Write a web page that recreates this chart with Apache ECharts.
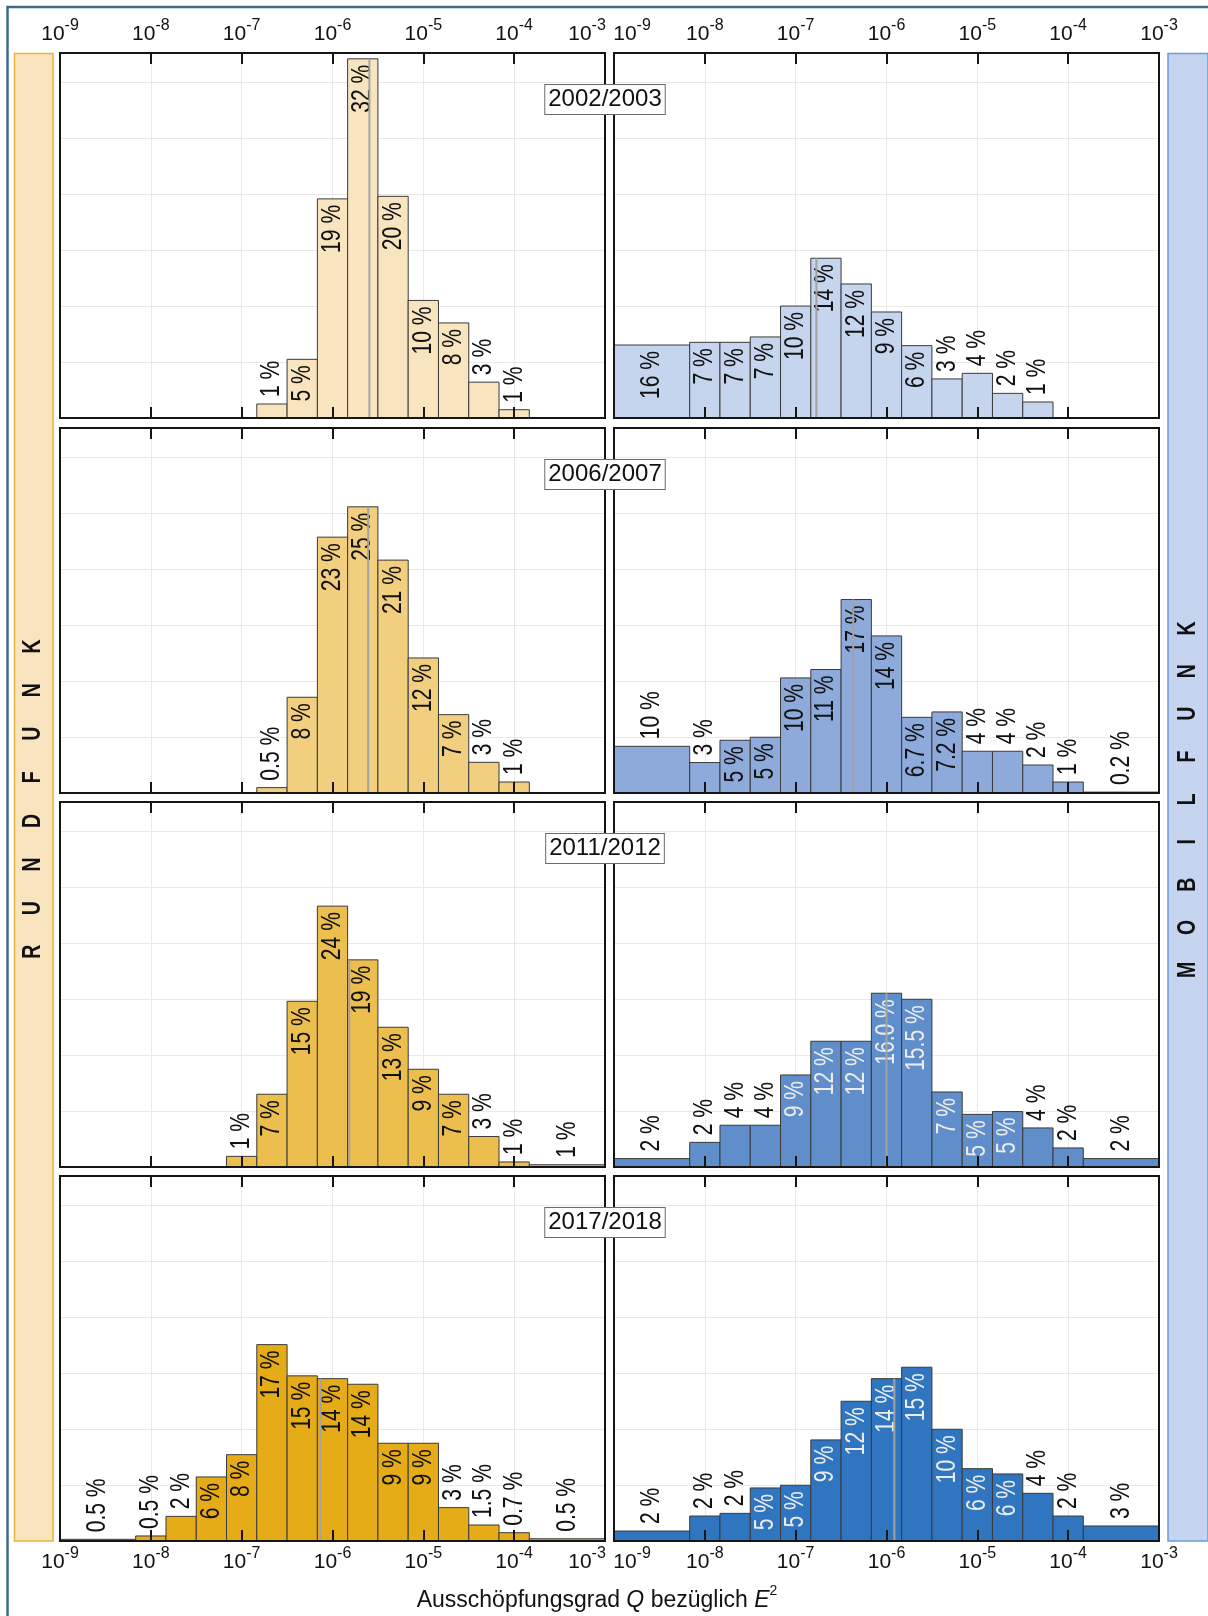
<!DOCTYPE html>
<html>
<head>
<meta charset="utf-8">
<script src="https://cdn.jsdelivr.net/npm/echarts@6/dist/echarts.min.js"></script>
<style>
html, body { margin: 0; padding: 0; background: #fff; }
#main { width: 1208px; height: 1616px; }
</style>
</head>
<body>
<div id="main"></div>
<script>
// Ausschöpfungsgrad Q - Histogramme Rundfunk / Mobilfunk, 4 Messkampagnen

var years = ['2002/2003', '2006/2007', '2011/2012', '2017/2018'];
var sideLeft = 'RUNDFUNK';
var sideRight = 'MOBILFUNK';
var axisTitle = ['Ausschöpfungsgrad ', 'Q', ' bezüglich ', 'E', '2'];

// bin edges (exponent of 10): underflow bin, 13 third-decade bins (10^-8 ... 10^-4), overflow bin
var binEdgeExp = [-9, -49/6, -47/6, -45/6, -43/6, -41/6, -39/6, -37/6, -35/6,
                  -33/6, -31/6, -29/6, -27/6, -25/6, -23/6, -3];

// bar heights in % (as read on the axis), null = no bar
var rund0203 = [null, null, null, null, null, 1.25, 5.24, 19.57, 32.08, 19.8, 10.5, 8.49, 3.2, 0.74, null];
var rund0607 = [null, null, null, null, null, 0.48, 8.55, 22.85, 25.56, 20.8, 12.06, 7.0, 2.74, 0.98, null];
var rund1112 = [null, null, null, null, 0.95, 6.5, 14.8, 23.3, 18.5, 12.48, 8.73, 6.5, 2.72, 0.45, 0.2];
var rund1718 = [0.15, 0.45, 2.2, 5.72, 7.71, 17.54, 14.75, 14.5, 14.0, 8.73, 8.73, 2.98, 1.43, 0.74, 0.2];

var mobil0203 = [6.52, 6.76, 6.76, 7.24, 10.0, 14.27, 11.97, 9.47, 6.46, 3.49, 3.99, 2.2, 1.43, null, null];
var mobil0607 = [4.17, 2.72, 4.71, 4.98, 10.28, 11.03, 17.28, 14.03, 6.76, 7.24, 3.73, 3.73, 2.5, 0.98, 0.08];
var mobil1112 = [0.75, 2.2, 3.73, 3.73, 8.22, 11.23, 11.23, 15.52, 14.98, 6.7, 4.7, 4.95, 3.49, 1.7, 0.75];
var mobil1718 = [0.89, 2.23, 2.47, 4.74, 4.98, 9.03, 12.48, 14.5, 15.52, 9.98, 6.46, 5.99, 4.26, 2.23, 1.34];

// bar labels
var rundLbl0203 = ['', '', '', '', '', '1 %', '5 %', '19 %', '32 %', '20 %', '10 %', '8 %', '3 %', '1 %', ''];
var rundLbl0607 = ['', '', '', '', '', '0.5 %', '8 %', '23 %', '25 %', '21 %', '12 %', '7 %', '3 %', '1 %', ''];
var rundLbl1112 = ['', '', '', '', '1 %', '7 %', '15 %', '24 %', '19 %', '13 %', '9 %', '7 %', '3 %', '1 %', '1 %'];
var rundLbl1718 = ['0.5 %', '0.5 %', '2 %', '6 %', '8 %', '17 %', '15 %', '14 %', '14 %', '9 %', '9 %', '3 %', '1.5 %', '0.7 %', '0.5 %'];

var mobilLbl0203 = ['16 %', '7 %', '7 %', '7 %', '10 %', '14 %', '12 %', '9 %', '6 %', '3 %', '4 %', '2 %', '1 %', '', ''];
var mobilLbl0607 = ['10 %', '3 %', '5 %', '5 %', '10 %', '11 %', '17 %', '14 %', '6.7 %', '7.2 %', '4 %', '4 %', '2 %', '1 %', '0.2 %'];
var mobilLbl1112 = ['2 %', '2 %', '4 %', '4 %', '9 %', '12 %', '12 %', '16.0 %', '15.5 %', '7 %', '5 %', '5 %', '4 %', '2 %', '2 %'];
var mobilLbl1718 = ['2 %', '2 %', '2 %', '5 %', '5 %', '9 %', '12 %', '14 %', '15 %', '10 %', '6 %', '6 %', '4 %', '2 %', '3 %'];

// Median (grauer Strich)
var rundMedian = [2.55e-6, 2.47e-6, 1.53e-6, 7.4e-7];
var mobilMedian = [1.69e-7, 4.3e-7, 1.0e-6, 1.22e-6];

var yMax = 32.6;

var rundHeights = [rund0203, rund0607, rund1112, rund1718];
var mobilHeights = [mobil0203, mobil0607, mobil1112, mobil1718];
var rundLabels = [rundLbl0203, rundLbl0607, rundLbl1112, rundLbl1718];
var mobilLabels = [mobilLbl0203, mobilLbl0607, mobilLbl1112, mobilLbl1718];

var rundColors = ['#f8e5bf', '#f2cf7f', '#ecbe4d', '#e6ac17'];
var mobilColors = ['#c6d5ee', '#8eaadb', '#5f8eca', '#2f75bf'];

var fontReg = '"Liberation Sans", Arial, sans-serif';
var barFont = '27px ' + fontReg;
var narrow = 0.78;   // schmale Schrift nachbilden

var rowTop = [53, 428, 802, 1176];
var rowH = 365;
var colLeft = [60, 614];
var colW = 545;

var measureCtx = document.createElement('canvas').getContext('2d');
function textWidth(t, font) {
    measureCtx.font = font;
    return measureCtx.measureText(t).width;
}

// Achsenbeschriftung 10^n; am Rand zwischen den Spalten nach innen geschoben
function expFormatter(side) {
    return function (v) {
        var e = Math.round(Math.log10(v));
        var txt = '{b|10}{s|' + e + '}';
        if (side === 0 && e === -3) return txt + '{g|}';
        if (side === 1 && e === -9) return '{g|}' + txt;
        return txt;
    };
}
var expRich = {
    b: { fontSize: 21, fontFamily: fontReg, color: '#111', lineHeight: 27, verticalAlign: 'bottom' },
    s: { fontSize: 16, fontFamily: fontReg, color: '#111', lineHeight: 15, verticalAlign: 'top' },
    g: { width: 36, height: 10 }
};

function barRender(labels, whiteInside) {
    return function (params, api) {
        var k = api.value(3);
        var p0 = api.coord([api.value(0), api.value(2)]);
        var p1 = api.coord([api.value(1), 0]);
        var barPx = p1[1] - p0[1];
        var cx = (p0[0] + p1[0]) / 2;
        var children = [{
            type: 'rect',
            shape: { x: p0[0], y: p0[1], width: p1[0] - p0[0], height: barPx },
            style: { fill: api.visual('color'), stroke: '#3a3a3a', lineWidth: 1 }
        }];
        var txt = labels[k];
        if (txt) {
            var inside = barPx >= textWidth(txt, barFont) * narrow + 14;
            children.push({
                type: 'text',
                x: cx,
                y: inside ? p0[1] + 6 : p0[1] - 7,
                rotation: Math.PI / 2,
                scaleX: narrow,
                style: {
                    text: txt,
                    font: barFont,
                    fill: (inside && whiteInside) ? '#ececec' : '#111',
                    align: inside ? 'right' : 'left',
                    verticalAlign: 'middle'
                }
            });
        }
        return { type: 'group', children: children };
    };
}

function medianRender(params, api) {
    var a = api.coord([api.value(0), 0]);
    var b = api.coord([api.value(0), api.value(1)]);
    return {
        type: 'line',
        shape: { x1: a[0], y1: a[1], x2: b[0], y2: b[1] },
        style: { stroke: '#a3a3a3', lineWidth: 2 }
    };
}

function binData(heights) {
    var out = [];
    for (var k = 0; k < heights.length; k++) {
        if (heights[k] == null) continue;
        out.push([Math.pow(10, binEdgeExp[k]), Math.pow(10, binEdgeExp[k + 1]), heights[k], k]);
    }
    return out;
}

function medianHeight(m, heights) {
    var e = Math.log10(m);
    for (var k = 0; k < heights.length; k++) {
        if (e >= binEdgeExp[k] && e < binEdgeExp[k + 1]) return heights[k] || 0;
    }
    return 0;
}

var grids = [], xAxes = [], yAxes = [], series = [];

for (var r = 0; r < 4; r++) {
    for (var s = 0; s < 2; s++) {
        var gi = grids.length;
        grids.push({
            left: colLeft[s], top: rowTop[r], width: colW, height: rowH,
            show: true, z: 10, backgroundColor: 'transparent',
            borderColor: '#151515', borderWidth: 2
        });
        // grid lines
        xAxes.push({
            type: 'log', logBase: 10, min: 1e-9, max: 1e-3, gridIndex: gi, position: 'bottom',
            axisLine: { show: false }, axisTick: { show: false }, axisLabel: { show: false },
            splitLine: { show: true, lineStyle: { color: '#e9e9e9', width: 1 } },
            minorTick: { show: false }
        });
        var tickStyle = { show: true, inside: true, length: 11, lineStyle: { color: '#151515', width: 2 } };
        // bottom ticks (+ labels in last row)
        xAxes.push({
            type: 'log', logBase: 10, min: 1e-9, max: 1e-3, gridIndex: gi, position: 'bottom', z: 10,
            axisLine: { show: false }, axisTick: tickStyle, splitLine: { show: false },
            axisLabel: { show: r === 3, margin: 5, formatter: expFormatter(s), rich: expRich }
        });
        // top ticks (+ labels in first row)
        xAxes.push({
            type: 'log', logBase: 10, min: 1e-9, max: 1e-3, gridIndex: gi, position: 'top', z: 10,
            axisLine: { show: false }, axisTick: tickStyle, splitLine: { show: false },
            axisLabel: { show: r === 0, margin: 8, formatter: expFormatter(s), rich: expRich }
        });
        yAxes.push({
            type: 'value', min: 0, max: yMax, interval: 5, gridIndex: gi,
            axisLine: { show: false }, axisTick: { show: false }, axisLabel: { show: false },
            splitLine: { show: true, lineStyle: { color: '#e9e9e9', width: 1 } }
        });

        var heights = s === 0 ? rundHeights[r] : mobilHeights[r];
        var labels = s === 0 ? rundLabels[r] : mobilLabels[r];
        var med = s === 0 ? rundMedian[r] : mobilMedian[r];
        series.push({
            type: 'custom',
            name: (s === 0 ? 'Rundfunk ' : 'Mobilfunk ') + years[r],
            xAxisIndex: gi * 3, yAxisIndex: gi,
            itemStyle: { color: s === 0 ? rundColors[r] : mobilColors[r] },
            encode: { x: [0, 1], y: 2 },
            renderItem: barRender(labels, s === 1 && r >= 2),
            data: binData(heights),
            silent: true
        });
        series.push({
            type: 'custom',
            xAxisIndex: gi * 3, yAxisIndex: gi,
            encode: { x: 0, y: 1 },
            renderItem: medianRender,
            data: [[med, medianHeight(med, heights)]],
            silent: true
        });
    }
}

var graphics = [];
// outer frame
graphics.push({
    type: 'rect', shape: { x: 7.5, y: 7, width: 1300, height: 1700 },
    style: { fill: 'none', stroke: '#3f6b88', lineWidth: 2.5 }, z: 1
});
// side bands
graphics.push({
    type: 'rect', shape: { x: 14.5, y: 53.5, width: 38.5, height: 1487.5 },
    style: { fill: '#f8e5c0', stroke: '#e8b33a', lineWidth: 1.5 }, z: 1
});
graphics.push({
    type: 'rect', shape: { x: 1168, y: 53.5, width: 40, height: 1487.5 },
    style: { fill: '#c6d5ef', stroke: '#6e9bd6', lineWidth: 1.5 }, z: 1
});
sideLeft.split('').forEach(function (ch, i) {
    graphics.push({
        type: 'text', x: 33.5, y: 951.7 - i * 43.6, rotation: Math.PI / 2, scaleX: 0.78, z: 2,
        style: { text: ch, font: 'bold 25px ' + fontReg, fill: '#111', align: 'center', verticalAlign: 'middle' }
    });
});
sideRight.split('').forEach(function (ch, i) {
    graphics.push({
        type: 'text', x: 1188, y: 970 - i * 42.7, rotation: Math.PI / 2, scaleX: 0.78, z: 2,
        style: { text: ch, font: 'bold 25px ' + fontReg, fill: '#111', align: 'center', verticalAlign: 'middle' }
    });
});
// year boxes
years.forEach(function (y, r) {
    graphics.push({
        type: 'text', x: 605, y: rowTop[r] + 46.5, z: 30,
        style: {
            text: y, font: '24px ' + fontReg, fill: '#111', align: 'center', verticalAlign: 'middle',
            backgroundColor: '#fff', borderColor: '#6a6a6a', borderWidth: 1, padding: [3, 3, 2, 3]
        }
    });
});
// x axis title
graphics.push({
    type: 'text', x: 597, y: 1598, z: 30,
    style: {
        text: '{n|' + axisTitle[0] + '}{i|' + axisTitle[1] + '}{n|' + axisTitle[2] + '}{i|' + axisTitle[3] + '}{s|' + axisTitle[4] + '}',
        align: 'center', verticalAlign: 'middle',
        rich: {
            n: { fontSize: 23, fontFamily: fontReg, fill: '#111', lineHeight: 28, verticalAlign: 'bottom' },
            i: { fontSize: 23, fontFamily: fontReg, fontStyle: 'italic', fill: '#111', lineHeight: 28, verticalAlign: 'bottom' },
            s: { fontSize: 14, fontFamily: fontReg, fill: '#111', lineHeight: 14, verticalAlign: 'top' }
        }
    }
});

var chart = echarts.init(document.getElementById('main'));
chart.setOption({
    animation: false,
    backgroundColor: '#fff',
    grid: grids,
    xAxis: xAxes,
    yAxis: yAxes,
    series: series,
    graphic: graphics
});
</script>
</body>
</html>
